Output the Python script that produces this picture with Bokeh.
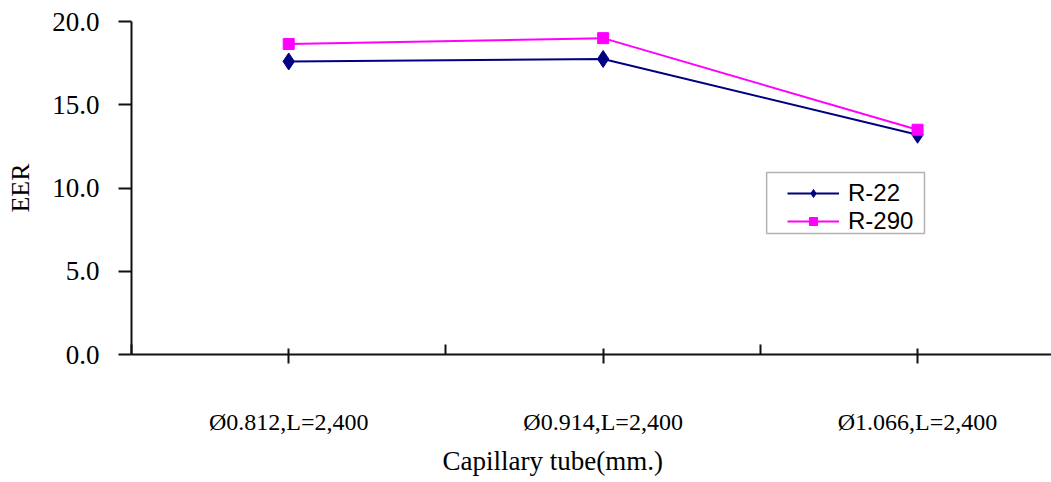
from bokeh.plotting import figure
from bokeh.models import (Range1d, FixedTicker, PrintfTickFormatter, Legend,
                          LegendItem, Title, BoxAnnotation)
from bokeh.embed import file_html
from bokeh.resources import INLINE

# Capillary tube sizes (diameter, length in mm)
categories = ["Ø0.812,L=2,400", "Ø0.914,L=2,400", "Ø1.066,L=2,400"]
eer_r22 = [17.6, 17.75, 13.2]
eer_r290 = [18.65, 19.0, 13.5]
y_ticks = [0, 5, 10, 15, 20]

xs = list(range(len(categories)))

p = figure(width=1051, height=482, output_backend="svg", toolbar_location=None,
           x_range=Range1d(-0.5, 2.426), y_range=Range1d(0, 20))
p.min_border_left = 131
p.min_border_right = 0
p.min_border_top = 21
p.min_border_bottom = 128
p.outline_line_color = None
p.xgrid.visible = False
p.ygrid.visible = False
p.background_fill_color = "white"
p.border_fill_color = "white"

serif = "Liberation Serif"
axis_col = "#111111"

# y axis
ya = p.yaxis[0]
ya.ticker = FixedTicker(ticks=y_ticks, minor_ticks=[])
ya.formatter = PrintfTickFormatter(format="%.1f")
ya.axis_line_color = axis_col
ya.axis_line_width = 2
ya.major_tick_line_color = axis_col
ya.major_tick_line_width = 2
ya.major_tick_in = 0
ya.major_tick_out = 13
ya.major_label_standoff = 19
ya.major_label_text_font = serif
ya.major_label_text_font_size = "27px"
ya.major_label_text_color = "black"
ya.axis_label = "EER"
ya.axis_label_text_font = serif
ya.axis_label_text_font_size = "26px"
ya.axis_label_text_font_style = "normal"
ya.axis_label_text_color = "black"
ya.axis_label_standoff = 14

# x axis: ticks at the categories and between them
xa = p.xaxis[0]
xa.ticker = FixedTicker(ticks=xs, minor_ticks=[-0.5, 0.5, 1.5, 2.5])
xa.major_label_overrides = {i: c for i, c in zip(xs, categories)}
xa.axis_line_color = axis_col
xa.axis_line_width = 2
xa.major_tick_line_color = axis_col
xa.major_tick_line_width = 2
xa.major_tick_in = 6
xa.major_tick_out = 9
xa.minor_tick_line_color = axis_col
xa.minor_tick_line_width = 2
xa.minor_tick_in = 10
xa.minor_tick_out = 0
xa.major_label_standoff = 45
xa.major_label_text_font = serif
xa.major_label_text_font_size = "24px"
xa.major_label_text_color = "black"

# series
l1 = p.line(xs, eer_r22, line_color="#000080", line_width=2)
m1 = p.scatter(xs, eer_r22, marker="diamond", size=17,
               fill_color="#000080", line_color="#000080")
l2 = p.line(xs, eer_r290, line_color="#FF00FF", line_width=2)
m2 = p.scatter(xs, eer_r290, marker="square", size=11,
               fill_color="#FF00FF", line_color="#FF00FF")

# legend frame
p.add_layout(BoxAnnotation(left=1.52, right=2.022, bottom=7.27, top=10.93,
                           fill_color="white", fill_alpha=1.0,
                           line_color="black", line_width=1.5,
                           level="annotation"))

legend = Legend(items=[LegendItem(label="R-22", renderers=[l1, m1]),
                       LegendItem(label="R-290", renderers=[l2, m2])],
                location=(656, 119))
legend.label_text_font = "Liberation Sans"
legend.label_text_font_size = "24px"
legend.label_text_color = "black"
legend.label_height = 20
legend.label_standoff = 9
legend.glyph_width = 52
legend.glyph_height = 20
legend.spacing = -8
legend.padding = 0
legend.margin = 0
legend.border_line_color = None
legend.background_fill_alpha = 0
p.add_layout(legend)

# x axis title
p.add_layout(Title(text="Capillary tube(mm.)", text_font=serif,
                   text_font_size="27px", text_font_style="normal",
                   text_color="black", align="left", offset=311,
                   standoff=12), "below")

open("out.html", "w").write(file_html(p, INLINE))
